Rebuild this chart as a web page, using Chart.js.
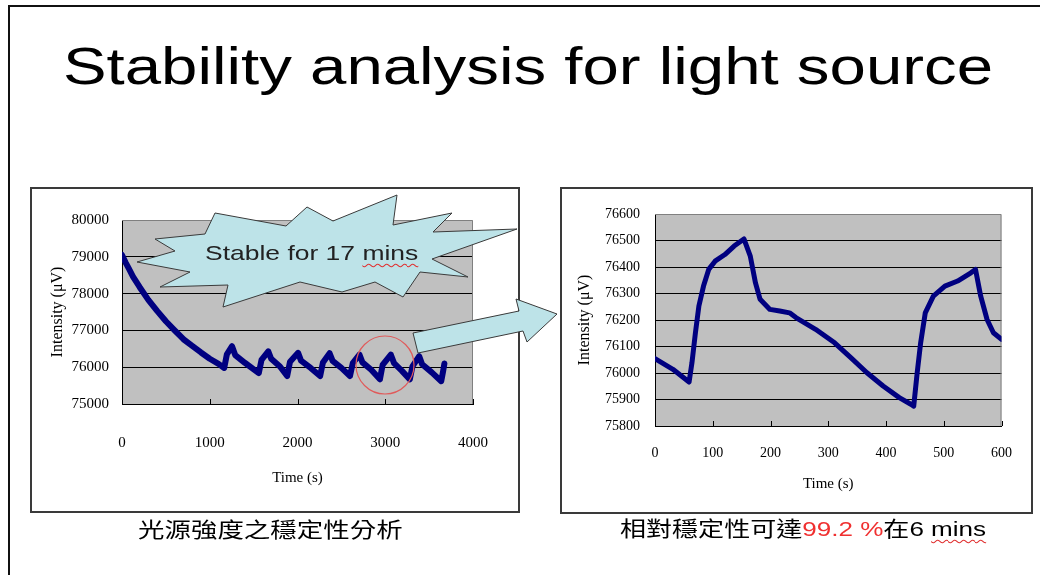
<!DOCTYPE html>
<html><head><meta charset="utf-8">
<script src="https://cdn.jsdelivr.net/npm/chart.js@4.4.1/dist/chart.umd.min.js"></script>
<style>
html,body{margin:0;padding:0;background:#fff;width:1040px;height:575px;overflow:hidden;position:relative;font-family:"Liberation Sans",Arial,sans-serif;}
.frame{position:absolute;left:8px;top:5px;width:1100px;height:600px;border-left:2px solid #111;border-top:2px solid #111;}
.box{position:absolute;box-sizing:border-box;border:2px solid #3a3a3a;background:#fff;}
canvas{position:absolute;}
.t{position:absolute;white-space:nowrap;line-height:1;transform-origin:0 0;}
.wavy{text-decoration:underline wavy #e03030;text-decoration-thickness:1px;text-underline-offset:3px;}
</style>
</head><body>
<div class="frame"></div>
<div class="t" id="title" style="left:63px;top:40px;font-size:52px;color:#000;transform:scaleX(1.257);">Stability analysis for light source</div>
<div class="box" style="left:30px;top:187px;width:490px;height:326px;"></div>
<div class="box" style="left:560px;top:187px;width:473px;height:327px;"></div>
<canvas id="c1" width="486" height="322" style="left:32px;top:189px;"></canvas>
<canvas id="c2" width="469" height="323" style="left:562px;top:189px;"></canvas>
<svg style="position:absolute;left:0;top:0;" width="1040" height="575">
  <polygon points="215,213 286,226 307,207 333,221 397,195 393,225 452,213 433,232 517,229 432,259 468,277 420,272 403,297 375,282 342,292 300,282 223,307 228,285 160,287 190,272 137,262 175,251 155,239 205,234"
    fill="#bde3e8" stroke="#3a3a3a" stroke-width="1"/>
  <circle cx="385" cy="365" r="29" fill="none" stroke="#e05a5a" stroke-width="1.2"/>
  <polygon points="418,353 413,333 519,311 516,299 557,314 527,342 523,331" fill="#bde3e8" stroke="#3a3a3a" stroke-width="1"/>
</svg>
<div class="t" style="left:205px;top:242px;font-size:21px;color:#222;transform:scaleX(1.26);">Stable for 17 <span class="wavy">mins</span></div>
<div class="t" style="left:138px;top:518px;font-size:21px;color:#000;font-family:'Noto Sans CJK TC',sans-serif;transform:scaleX(1.26);">光源強度之穩定性分析</div>
<div class="t" style="left:620px;top:518px;font-size:21px;color:#000;font-family:'Liberation Sans','Noto Sans CJK TC',sans-serif;transform:scaleX(1.24);">相對穩定性可達<span style="color:#f03030">99.2 %</span>在6 <span class="wavy">mins</span></div>
<script>
// ---- Left chart: long-term stability ----
const leftTime = [0,40,80,125,200,300,400,500,600,700,800,900,1000,1100,1165,1195,1254,1290,1400,1559,1590,1667,1700,1800,1882,1915,2007,2040,2150,2258,2290,2366,2400,2500,2598,2630,2706,2740,2840,2939,2970,3064,3100,3190,3280,3310,3387,3420,3530,3638,3660,3674];
const leftIntensity = [79050,78850,78670,78460,78180,77830,77530,77250,77000,76760,76580,76400,76230,76090,75980,76350,76570,76330,76120,75840,76200,76430,76230,76020,75760,76150,76390,76180,75980,75760,76130,76380,76170,75980,75760,76110,76340,76130,75930,75670,76060,76340,76110,75900,75670,76020,76300,76080,75860,75620,75900,76100];
const leftXTickValues = [0,1000,2000,3000,4000];
const leftXTickLabels = ['0','1000','2000','3000','4000'];
const leftYTickValues = [75000,76000,77000,78000,79000,80000];
const leftYTickLabels = ['75000','76000','77000','78000','79000','80000'];

// ---- Right chart: 600 s window ----
const rightTime = [0,31,59,64,70,76,84,93,104,121,137,154,165,174,182,199,216,233,244,278,311,339,367,395,423,443,448,454,460,468,482,502,524,547,555,564,575,586,600];
const rightIntensity = [76054,76014,75966,76039,76152,76253,76328,76391,76422,76447,76479,76506,76441,76340,76278,76240,76234,76227,76209,76165,76114,76058,76001,75951,75907,75882,75875,76001,76114,76227,76290,76328,76347,76378,76391,76290,76202,76152,76127];
const rightXTickValues = [0,100,200,300,400,500,600];
const rightXTickLabels = ['0','100','200','300','400','500','600'];
const rightYTickValues = [75800,75900,76000,76100,76200,76300,76400,76500,76600];
const rightYTickLabels = ['75800','75900','76000','76100','76200','76300','76400','76500','76600'];

const plotDecor = {
  id: 'plotDecor',
  beforeDraw(chart) {
    const {ctx, chartArea: a} = chart;
    ctx.save();
    ctx.fillStyle = '#c0c0c0';
    ctx.fillRect(a.left, a.top, a.right - a.left, a.bottom - a.top);
    ctx.restore();
  },
  beforeDatasetsDraw(chart) {
    const {ctx, chartArea: a} = chart;
    ctx.save();
    ctx.strokeStyle = '#808080';
    ctx.lineWidth = 1;
    ctx.beginPath();
    ctx.moveTo(a.left, a.top + 0.5); ctx.lineTo(a.right - 0.5, a.top + 0.5); ctx.lineTo(a.right - 0.5, a.bottom);
    ctx.stroke();
    const xs = chart.scales.x;
    ctx.strokeStyle = '#000';
    ctx.beginPath();
    xs.ticks.forEach(t => {
      const px = Math.round(xs.getPixelForValue(t.value)) + 0.5;
      ctx.moveTo(px, a.bottom); ctx.lineTo(px, a.bottom - 5);
    });
    ctx.stroke();
    ctx.restore();
  }
};

function makeChart(id, o) {
  const serif = 'Liberation Serif';
  return new Chart(document.getElementById(id), {
    type: 'scatter',
    data: { datasets: [{
      data: o.time.map((t, i) => ({x: t, y: o.values[i]})),
      showLine: true, borderColor: '#000080', backgroundColor: '#000080',
      borderWidth: o.lineW, pointRadius: 0, tension: 0,
      borderJoinStyle: 'round', borderCapStyle: 'round'
    }]},
    options: {
      responsive: false, animation: false, devicePixelRatio: 1,
      layout: { padding: o.pad },
      plugins: { legend: {display: false}, tooltip: {enabled: false} },
      scales: {
        x: {
          type: 'linear', min: o.xTicks[0], max: o.xTicks[o.xTicks.length - 1],
          afterBuildTicks: s => { s.ticks = o.xTicks.map(v => ({value: v})); },
          afterFit: s => { s.height = o.xH; },
          ticks: { padding: o.xPad, color: '#000', font: {family: serif, size: o.xFont}, callback: (v, i) => o.xLabels[i] },
          grid: { drawOnChartArea: false, drawTicks: false },
          border: { color: '#000', width: 1 },
          title: { display: true, text: 'Time (s)', color: '#000', font: {family: serif, size: 15}, padding: {top: 0, bottom: o.xTitlePad} }
        },
        y: {
          type: 'linear', min: o.yTicks[0], max: o.yTicks[o.yTicks.length - 1],
          afterBuildTicks: s => { s.ticks = o.yTicks.map(v => ({value: v})); },
          afterFit: s => { s.width = o.yW; },
          ticks: { padding: o.yPad, color: '#000', font: {family: serif, size: o.yFont}, callback: (v, i) => o.yLabels[i] },
          grid: { drawTicks: false, lineWidth: 1,
            color: c => (c.tick && c.tick.value === o.yTicks[o.yTicks.length - 1]) ? 'rgba(0,0,0,0)' : '#000' },
          border: { color: '#000', width: 1 },
          title: { display: true, text: 'Intensity (μV)', color: '#000', font: {family: serif, size: 16}, padding: {top: o.yTitlePad, bottom: 0} }
        }
      }
    },
    plugins: [plotDecor]
  });
}

makeChart('c1', {
  time: leftTime, values: leftIntensity, lineW: 6,
  xTicks: leftXTickValues, xLabels: leftXTickLabels, yTicks: leftYTickValues, yLabels: leftYTickLabels,
  pad: {left: 0, top: 31, right: 24, bottom: 0},
  xH: 107, yW: 90, xPad: 30, yPad: 13, xFont: 15, yFont: 15, xTitlePad: 24, yTitlePad: 16
});
makeChart('c2', {
  time: rightTime, values: rightIntensity, lineW: 5,
  xTicks: rightXTickValues, xLabels: rightXTickLabels, yTicks: rightYTickValues, yLabels: rightYTickLabels,
  pad: {left: 0, top: 25, right: 19, bottom: 0},
  xH: 86, yW: 93, xPad: 19, yPad: 15, xFont: 14, yFont: 14, xTitlePad: 19, yTitlePad: 13
});
</script>
</body></html>
